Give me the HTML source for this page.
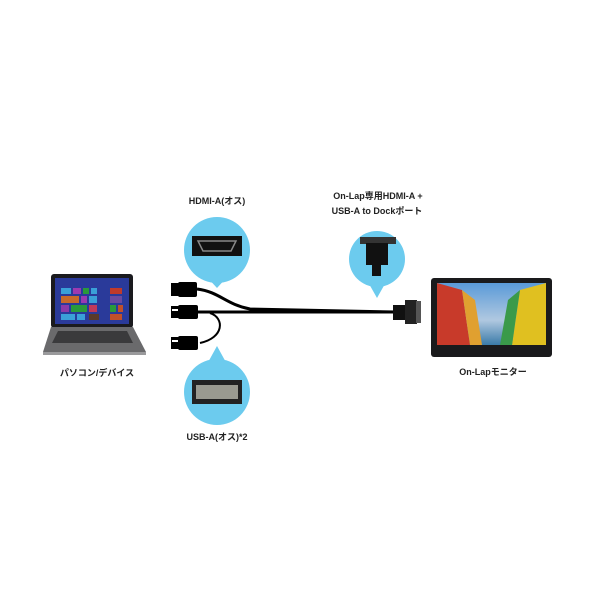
<!DOCTYPE html>
<html><head><meta charset="utf-8"><style>
body{margin:0;background:#fff;}
svg text{font-family:"Liberation Sans","Noto Sans CJK JP",sans-serif;font-size:9px;fill:#222;text-anchor:middle;font-weight:bold;}
</style></head><body>
<svg width="600" height="600" viewBox="0 0 600 600" xmlns="http://www.w3.org/2000/svg">
<rect width="600" height="600" fill="#fff"/>
<rect x="51" y="274" width="82" height="54" rx="3" fill="#1a1a1e"/>
<rect x="55" y="278" width="74" height="46" fill="#2a3a9a"/>
<g fill="#3aa0d8"><rect x="61" y="288" width="10" height="6"/><rect x="73" y="288" width="8" height="6" fill="#9b3ab0"/><rect x="83" y="288" width="6" height="6" fill="#2a9a3a"/><rect x="91" y="288" width="6" height="6"/><rect x="110" y="288" width="12" height="6" fill="#c03a2a"/>
<rect x="61" y="296" width="18" height="7" fill="#c86a2a"/><rect x="81" y="296" width="6" height="7" fill="#9b3ab0"/><rect x="89" y="296" width="8" height="7"/><rect x="110" y="296" width="12" height="7" fill="#6a4aa0"/>
<rect x="61" y="305" width="8" height="7" fill="#8a3aa8"/><rect x="71" y="305" width="16" height="7" fill="#2a9a3a"/><rect x="89" y="305" width="8" height="7" fill="#c03a5a"/><rect x="110" y="305" width="6" height="7" fill="#2a9a3a"/><rect x="118" y="305" width="5" height="7" fill="#c0502a"/>
<rect x="61" y="314" width="14" height="6"/><rect x="77" y="314" width="8" height="6"/><rect x="89" y="314" width="10" height="6" fill="#5a3a2a"/><rect x="110" y="314" width="12" height="6" fill="#c0502a"/></g>
<polygon points="51,327 133,327 146,352 43,352" fill="#6a6a6c"/>
<polygon points="58,331 127,331 133,343 52,343" fill="#3a3a3c"/>
<rect x="43" y="352" width="103" height="3" fill="#9a9a9c"/>
<text x="97" y="376">パソコン/デバイス</text>
<path d="M197,289 C220,292 225,304 250,309 L395,312" stroke="#000" stroke-width="3" fill="none"/>
<path d="M197,312 L395,312" stroke="#000" stroke-width="3" fill="none"/>
<path d="M210,313 C225,318 224,338 200,343" stroke="#000" stroke-width="2" fill="none"/>
<rect x="171" y="283" width="8" height="13" fill="#000"/><rect x="178" y="282" width="19" height="15" rx="2" fill="#000"/>
<rect x="171" y="306" width="8" height="12" fill="#000"/><rect x="172" y="309" width="6" height="2" fill="#fff"/><rect x="178" y="305" width="20" height="14" rx="2" fill="#000"/>
<rect x="171" y="337" width="8" height="12" fill="#000"/><rect x="172" y="340" width="6" height="2" fill="#fff"/><rect x="178" y="336" width="20" height="14" rx="2" fill="#000"/>
<rect x="393" y="305" width="14" height="15" fill="#111"/><rect x="405" y="300" width="12" height="24" fill="#222"/><rect x="416" y="301" width="5" height="22" fill="#555"/>
<g fill="#6ccbee">
<circle cx="217" cy="250" r="33"/><polygon points="206,276 228,276 217,288"/>
<circle cx="217" cy="392" r="33"/><polygon points="206,366 228,366 217,346"/>
<circle cx="377" cy="259" r="28"/><polygon points="368,282 386,282 377,298"/>
</g>
<rect x="192" y="236" width="50" height="20" fill="#111"/><polygon points="198,241 236,241 231,251 203,251" fill="none" stroke="#888" stroke-width="1.5"/>
<rect x="192" y="380" width="50" height="24" fill="#222"/><rect x="196" y="385" width="42" height="14" fill="#9a9a90"/>
<rect x="360" y="237" width="36" height="7" fill="#333"/><rect x="366" y="243" width="22" height="22" fill="#111"/><rect x="372" y="264" width="9" height="12" fill="#111"/>
<text x="217" y="204">HDMI-A(オス)</text>
<text x="217" y="440">USB-A(オス)*2</text>
<text x="378" y="199">On-Lap専用HDMI-A +</text>
<text x="377" y="214">USB-A to Dockポート</text>
<rect x="431" y="278" width="121" height="79" rx="3" fill="#1a1a1c"/>
<defs><linearGradient id="s" x1="0" y1="0" x2="0" y2="1"><stop offset="0" stop-color="#5a9ad8"/><stop offset="0.6" stop-color="#b0c8e0"/><stop offset="1" stop-color="#3a7aa8"/></linearGradient></defs>
<rect x="437" y="283" width="109" height="62" fill="url(#s)"/>
<polygon points="437,283 462,290 470,345 437,345" fill="#c83a2a"/>
<polygon points="462,290 475,300 482,345 470,345" fill="#e0a030"/>
<polygon points="546,283 520,290 512,345 546,345" fill="#e0c020"/>
<polygon points="520,290 508,300 500,345 512,345" fill="#3a9a4a"/>
<text x="493" y="375">On-Lapモニター</text>
</svg>
</body></html>
